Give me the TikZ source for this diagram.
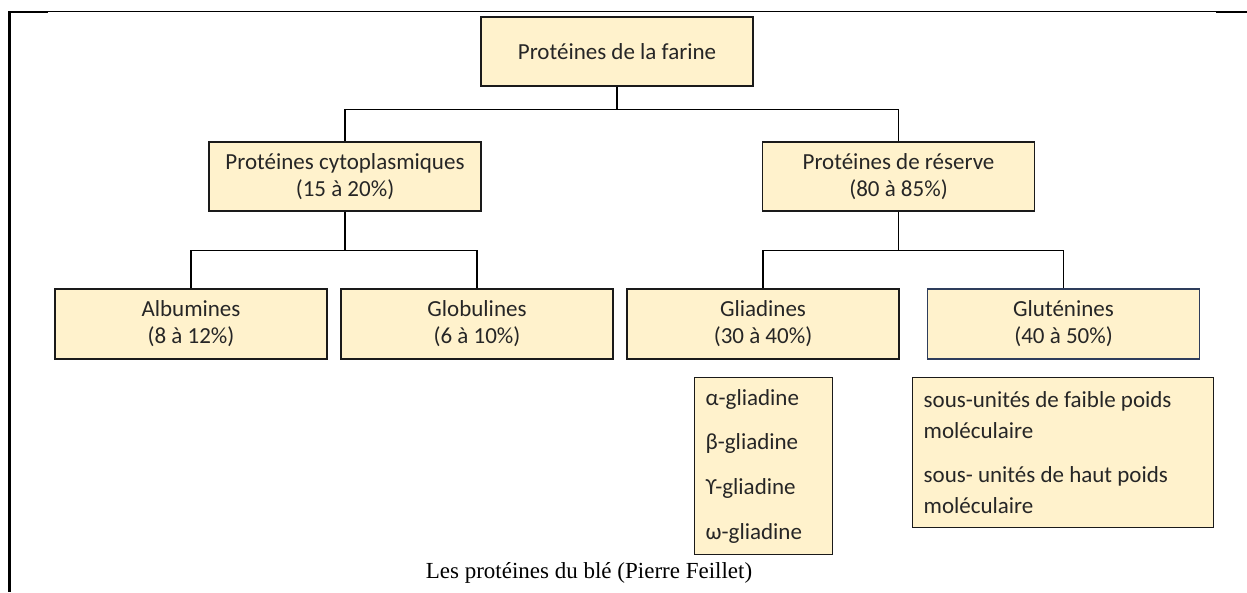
\documentclass[tikz,border=0pt]{standalone}
\usepackage{fontspec}
\setmainfont{Carlito}
\newfontfamily\captionfont{Liberation Serif}
\definecolor{boxfill}{HTML}{FFF2CC}
\definecolor{boxline}{HTML}{1A1A1A}
\definecolor{boxtext}{HTML}{262626}
\definecolor{glutline}{HTML}{2E3D5C}
\begin{document}
\begin{tikzpicture}[x=1pt, y=-1pt,
  box/.style={draw=boxline, fill=boxfill, line width=1.3pt, minimum width=272pt, minimum height=69pt,
              inner sep=0pt, align=center, text=boxtext, font=\fontsize{23}{27}\selectfont},
  listbox/.style={draw=boxline, fill=boxfill, line width=1.3pt, anchor=north west, inner xsep=11pt,
                  inner ysep=0pt, align=flush left, text=boxtext},
  link/.style={line width=1.5pt}
]
\useasboundingbox (0,0) rectangle (1247,592);

% cadre de la page
\draw[line width=1pt] (8,11) -- (1247,11);
\draw[line width=2.5pt] (8,12.2) -- (48,12.2);
\draw[line width=2.5pt] (1216,12.2) -- (1247,12.2);
\draw[line width=3pt] (9.5,11) -- (9.5,592);

\node[box] (farine)  at (617,   51.5) {Protéines de la farine};
\node[box] (cyto)    at (345,  176.5) {Protéines cytoplasmiques\\(15 à 20\%)};
\node[box] (reserve) at (898.5,176.5) {Protéines de réserve\\(80 à 85\%)};

\node[box, minimum height=70pt] (albu)  at (191,   324) {Albumines\\(8 à 12\%)};
\node[box, minimum height=70pt] (globu) at (477,   324) {Globulines\\(6 à 10\%)};
\node[box, minimum height=70pt] (glia)  at (763,   324) {Gliadines\\(30 à 40\%)};
\node[box, minimum height=70pt, draw=glutline] (glut) at (1063.5,324) {Gluténines\\(40 à 50\%)};

\node[listbox, text width=116pt, minimum height=177pt, font=\fontsize{23}{44.6}\selectfont]
  (glialist) at (694,377) {α-gliadine\\β-gliadine\\ϒ-gliadine\\ω-gliadine};
\node[listbox, text width=279pt, minimum height=150pt, font=\fontsize{23}{31}\selectfont]
  (glutlist) at (912,377) {sous-unités de faible poids\\moléculaire\\[13pt]sous- unités de haut poids\\moléculaire};

\draw[link] (farine.south) -- ++(0,23) -| (cyto.north);
\draw[link] (farine.south) -- ++(0,23) -| (reserve.north);
\draw[link] (cyto.south) -- ++(0,39) -| (albu.north);
\draw[link] (cyto.south) -- ++(0,39) -| (globu.north);
\draw[link] (reserve.south) -- ++(0,39) -| (glia.north);
\draw[link] (reserve.south) -- ++(0,39) -| (glut.north);

\node[font=\captionfont\fontsize{23}{27}\selectfont] (legende) at (589,573) {Les protéines du blé (Pierre Feillet)};
\end{tikzpicture}
\end{document}
